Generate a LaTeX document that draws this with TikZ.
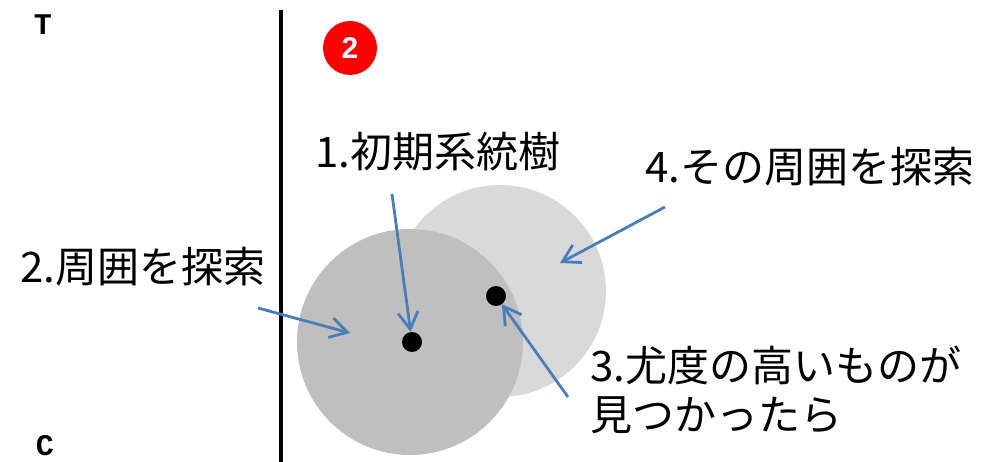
\documentclass[tikz,border=0pt]{standalone}
\usepackage{fontspec}
\newfontfamily\jpfont{Noto Sans CJK JP}
\newfontfamily\badgefont{Liberation Sans Bold}
\newfontfamily\ttlfont{Liberation Mono}
\usepackage{tikz}
\usetikzlibrary{arrows.meta}
\definecolor{arrc}{HTML}{4A7EBB}
\definecolor{darkc}{HTML}{BFBFBF}
\definecolor{lightc}{HTML}{D9D9D9}
\definecolor{badgec}{HTML}{FF0000}
\tikzset{
  ar/.style={-{Straight Barb[length=17pt,width=20pt]},line width=2.8pt,arrc},
  lbl/.style={font=\jpfont\fontsize{42}{49}\selectfont,inner sep=0pt,anchor=west,align=left},
  dot/.style={circle,fill=black,minimum size=20pt,inner sep=0pt},
  axl/.style={font=\ttlfont\bfseries\fontsize{30}{30}\selectfont,inner sep=0pt}
}
\begin{document}
\begin{tikzpicture}[x=1pt,y=-1pt]
\useasboundingbox (0,0) rectangle (988,462);
% search regions
\fill[lightc] (500,291) circle (106);
\fill[darkc] (410,342) circle (113);
\draw[line width=3.5pt] (281,10) -- (281,462);
\node[axl] (tT) at (43,25) {T};
\node[axl] (tC) at (45,446) {C};
\node[circle,fill=badgec,minimum size=54pt,inner sep=0pt,text=white,font=\badgefont\fontsize{30}{30}\selectfont] (badge) at (350,48) {2};
\node[dot] (p1) at (412,342) {};
\node[dot] (p2) at (496,296) {};
% labels
\node[lbl] (l1) at (315,152) {1.初期系統樹};
\node[lbl] (l2) at (20,267) {2.周囲を探索};
\node[lbl] (l4) at (645,167) {4.その周囲を探索};
\node[lbl] (l3) at (590,390) {3.尤度の高いものが\\見つかったら};
% arrows
\coordinate (s1) at (392,194);
\coordinate (s2) at (258,308);
\coordinate (e2) at (350,333);
\coordinate (s3) at (568,397);
\coordinate (s4) at (665,207);
\coordinate (e4) at (560,263);
\draw[ar] (s1) -- (p1);
\draw[ar] (s2) -- (e2);
\draw[ar] (s3) -- (p2);
\draw[ar] (s4) -- (e4);
\end{tikzpicture}
\end{document}
